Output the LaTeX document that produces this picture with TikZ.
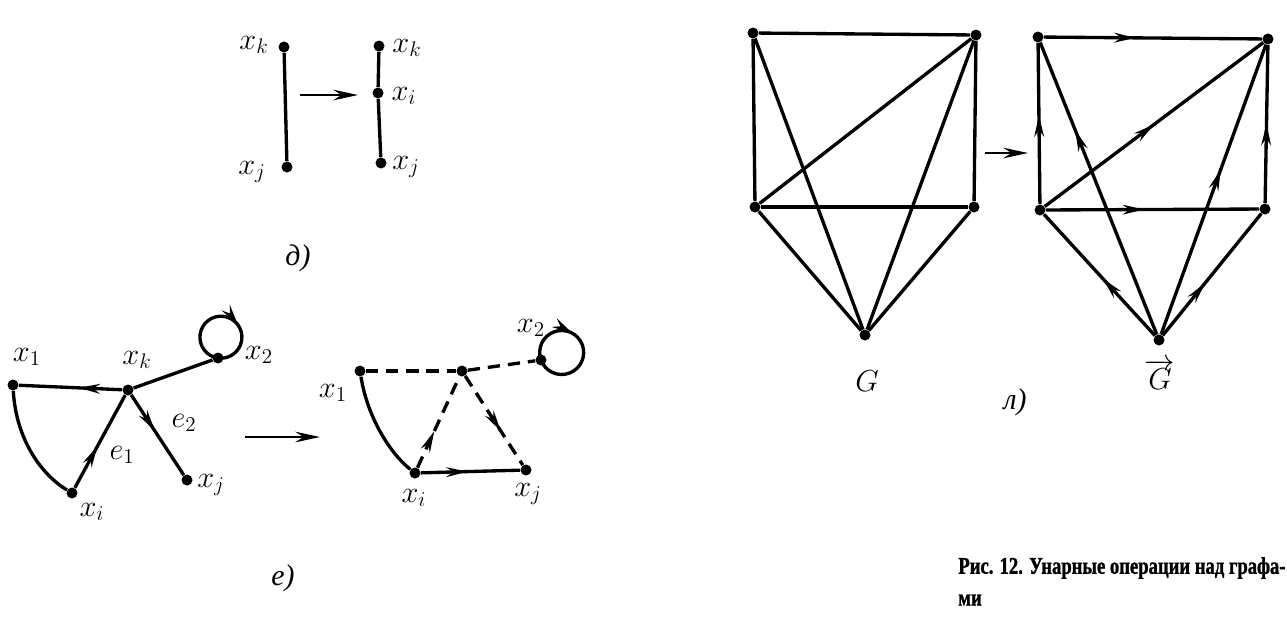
\documentclass[tikz,border=0pt]{standalone}
\usepackage{fontspec}
\setmainfont{Liberation Serif}
\newfontfamily\capfont[FakeStretch=0.78,FakeBold=1.2]{Liberation Serif Bold}
\usetikzlibrary{arrows.meta,decorations.markings}
\tikzset{
  x=0.02cm, y=-0.02cm,
  dot/.style={circle,fill=black,inner sep=0pt,minimum size=0.22cm},
  edge/.style={line width=1.9pt},
  dedge/.style={line width=1.9pt,dash pattern=on 7pt off 4.5pt},
  marr/.style={postaction={decorate},decoration={markings,mark=at position #1 with {\arrow{Stealth[length=12pt,width=5.5pt]}}}},
  bigarr/.style={line width=1.4pt,-{Stealth[length=14pt,width=6pt]}},
  lab/.style={font=\fontsize{17}{19}\selectfont,inner sep=0pt},
  tag/.style={font=\fontsize{17}{19}\selectfont\itshape,inner sep=0pt},
}
\begin{document}
\begin{tikzpicture}
\useasboundingbox (0,0) rectangle (1287,620);
% ---------- part d ----------
\node[dot] (dk1) at (284,47) {};
\node[dot] (dj1) at (287,167) {};
\node[dot] (dk2) at (379,46) {};
\node[dot] (di2) at (378,93) {};
\node[dot] (dj2) at (381,163) {};
\draw[edge] (dk1) -- (dj1);
\draw[edge] (dk2) -- (di2);
\draw[edge] (di2) -- (dj2);
\node[lab] (ldk1) at (254,45) {$x_k$};
\node[lab] (ldj1) at (252,172) {$x_j$};
\node[lab] (ldk2) at (407,48) {$x_k$};
\node[lab] (ldi2) at (404,96) {$x_i$};
\node[lab] (ldj2) at (406,167) {$x_j$};
\coordinate (da) at (300,95);
\coordinate (db) at (358,95);
\draw[bigarr] (da) -- (db);
\node[tag] (tagd) at (298,258) {д)};
% ---------- part e, left ----------
\node[dot] (e1) at (13,385) {};
\node[dot] (ek) at (128,390) {};
\node[dot] (e2) at (218,358) {};
\node[dot] (ej) at (187,480) {};
\node[dot] (ei) at (72,493) {};
\draw[edge,marr=0.42] (ek) -- (e1);
\draw[edge,marr=0.45] (ei) -- (ek);
\draw[edge,marr=0.45] (ek) -- (ej);
\draw[edge] (ek) -- (e2);
\draw[edge] (e1) .. controls (16,440) and (42,475) .. (ei);
\draw[edge,marr=0.63] (e2.center) arc[start angle=98,end angle=458,radius=21];
\node[lab] (le1) at (27,357) {$x_1$};
\node[lab] (lek) at (137,360) {$x_k$};
\node[lab] (le2) at (259,355) {$x_2$};
\node[lab] (lee2) at (184,423) {$e_2$};
\node[lab] (lee1) at (122,455) {$e_1$};
\node[lab] (lej) at (211,485) {$x_j$};
\node[lab] (lei) at (92,512) {$x_i$};
\coordinate (ea) at (245,437);
\coordinate (eb) at (320,437);
\draw[bigarr] (ea) -- (eb);
% ---------- part e, right ----------
\node[dot] (f1) at (360,371) {};
\node[dot] (fc) at (462,371) {};
\node[dot] (f2) at (541,360) {};
\node[dot] (fi) at (415,473) {};
\node[dot] (fj) at (526,470) {};
\draw[dedge] (f1) -- (fc);
\draw[dedge] (fc) -- (f2);
\draw[dedge,marr=0.4] (fi) -- (fc);
\draw[dedge,marr=0.62] (fc) -- (fj);
\draw[edge,marr=0.47] (fi) -- (fj);
\draw[edge] (f1) .. controls (368,420) and (392,455) .. (fi);
\draw[edge,marr=0.39] (f2.center) arc[start angle=160,end angle=520,radius=22];
\node[lab] (lf1) at (333,393) {$x_1$};
\node[lab] (lf2) at (531,328) {$x_2$};
\node[lab] (lfi) at (414,498) {$x_i$};
\node[lab] (lfj) at (528,494) {$x_j$};
\node[tag] (tage) at (283,578) {е)};
% ---------- part l, G ----------
\node[dot] (ga) at (753,33) {};
\node[dot] (gb) at (976,35) {};
\node[dot] (gc) at (755,207) {};
\node[dot] (gd) at (974,207) {};
\node[dot] (ge) at (865,335) {};
\draw[edge] (ga) -- (gb);
\draw[edge] (ga) -- (gc);
\draw[edge] (gb) -- (gd);
\draw[edge] (gc) -- (gd);
\draw[edge] (gc) -- (gb);
\draw[edge] (ga) -- (ge);
\draw[edge] (gb) -- (ge);
\draw[edge] (gc) -- (ge);
\draw[edge] (gd) -- (ge);
\node[lab] (lg) at (867,381) {$G$};
\coordinate (la) at (985,153);
\coordinate (lb) at (1028,153);
\draw[bigarr] (la) -- (lb);
% ---------- part l, oriented G ----------
\node[dot] (ha) at (1038,37) {};
\node[dot] (hb) at (1268,39) {};
\node[dot] (hc) at (1040,210) {};
\node[dot] (hd) at (1265,209) {};
\node[dot] (he) at (1159,340) {};
\draw[edge,marr=0.42] (ha) -- (hb);
\draw[edge,marr=0.55] (hc) -- (ha);
\draw[edge,marr=0.7] (he) -- (ha);
\draw[edge,marr=0.5] (hc) -- (hb);
\draw[edge,marr=0.46] (hc) -- (hd);
\draw[edge,marr=0.5] (hd) -- (hb);
\draw[edge,marr=0.57] (he) -- (hb);
\draw[edge,marr=0.47] (he) -- (hc);
\draw[edge,marr=0.43] (he) -- (hd);
\node[lab] (lh) at (1160,374) {$\overrightarrow{G}$};
\node[tag] (tagl) at (1015,402) {л)};
% ---------- caption ----------
\node[anchor=west,inner sep=0pt,font=\fontsize{13.6}{16}\capfont] (cap1) at (958,568) {Рис. 12. Унарные операции над графа-};
\node[anchor=west,inner sep=0pt,font=\fontsize{13.6}{16}\capfont] (cap2) at (958,600) {ми};
\end{tikzpicture}
\end{document}
